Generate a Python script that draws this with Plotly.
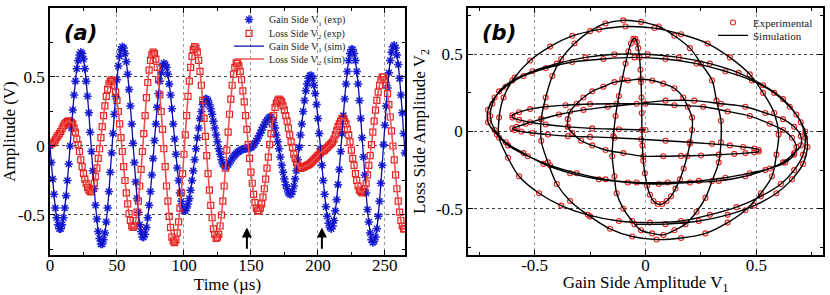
import plotly.graph_objects as go

# ---------------- data ----------------
time_us = list(range(0, 266))  # sampling instants, 1 us apart

gain_v1 = [
    0.00, -0.12, -0.24, -0.35, -0.45, -0.52, -0.57, -0.60, -0.60, -0.57,
    -0.52, -0.45, -0.36, -0.25, -0.13, 0.00, 0.13, 0.26, 0.37, 0.47,
    0.56, 0.62, 0.66, 0.68, 0.67, 0.63, 0.56, 0.47, 0.36, 0.24,
    0.10, -0.04, -0.18, -0.31, -0.43, -0.53, -0.62, -0.67, -0.71, -0.71,
    -0.68, -0.63, -0.55, -0.45, -0.33, -0.19, -0.05, 0.09, 0.23, 0.36,
    0.48, 0.58, 0.65, 0.70, 0.72, 0.71, 0.67, 0.61, 0.52, 0.41,
    0.29, 0.16, 0.02, -0.12, -0.26, -0.38, -0.48, -0.57, -0.62, -0.66,
    -0.66, -0.64, -0.59, -0.52, -0.43, -0.33, -0.21, -0.09, 0.04, 0.16,
    0.28, 0.38, 0.47, 0.53, 0.58, 0.60, 0.59, 0.57, 0.52, 0.45,
    0.37, 0.27, 0.16, 0.05, -0.06, -0.16, -0.25, -0.34, -0.40, -0.44,
    -0.47, -0.47, -0.45, -0.42, -0.38, -0.32, -0.25, -0.18, -0.10, -0.02,
    0.06, 0.13, 0.20, 0.25, 0.30, 0.32, 0.34, 0.34, 0.33, 0.30,
    0.27, 0.23, 0.18, 0.13, 0.08, 0.03, -0.02, -0.06, -0.10, -0.13,
    -0.14, -0.15, -0.145, -0.135, -0.12, -0.105, -0.09, -0.077, -0.066, -0.055,
    -0.046, -0.039, -0.033, -0.027, -0.023, -0.02, -0.018, -0.017, -0.016, -0.014,
    -0.01, -0.003, 0.007, 0.02, 0.036, 0.055, 0.075, 0.095, 0.115, 0.135,
    0.155, 0.172, 0.188, 0.20, 0.21, 0.21, 0.19, 0.17, 0.13, 0.08,
    0.03, -0.02, -0.08, -0.14, -0.19, -0.24, -0.28, -0.31, -0.34, -0.35,
    -0.35, -0.33, -0.29, -0.24, -0.18, -0.10, -0.01, 0.08, 0.16, 0.25,
    0.33, 0.40, 0.45, 0.49, 0.51, 0.51, 0.49, 0.44, 0.38, 0.30,
    0.20, 0.09, -0.02, -0.14, -0.25, -0.35, -0.44, -0.51, -0.56, -0.59,
    -0.60, -0.58, -0.54, -0.47, -0.39, -0.28, -0.17, -0.04, 0.09, 0.22,
    0.34, 0.45, 0.54, 0.62, 0.67, 0.70, 0.70, 0.67, 0.62, 0.54,
    0.45, 0.33, 0.20, 0.06, -0.08, -0.21, -0.34, -0.46, -0.55, -0.63,
    -0.68, -0.70, -0.69, -0.66, -0.60, -0.51, -0.40, -0.27, -0.14, 0.01,
    0.15, 0.29, 0.42, 0.53, 0.62, 0.68, 0.72, 0.73, 0.71, 0.66,
    0.59, 0.49, 0.37, 0.24, 0.09, -0.05,
]

loss_v2 = [
    0.01, 0.015, 0.02, 0.03, 0.045, 0.06, 0.075, 0.09, 0.105, 0.125,
    0.145, 0.16, 0.17, 0.178, 0.18, 0.18, 0.17, 0.16, 0.13, 0.10,
    0.05, 0.01, -0.04, -0.10, -0.15, -0.20, -0.24, -0.27, -0.30, -0.32,
    -0.33, -0.33, -0.31, -0.27, -0.22, -0.16, -0.09, -0.02, 0.06, 0.14,
    0.22, 0.29, 0.36, 0.41, 0.45, 0.47, 0.48, 0.47, 0.44, 0.39,
    0.33, 0.25, 0.16, 0.06, -0.04, -0.15, -0.25, -0.34, -0.42, -0.49,
    -0.54, -0.58, -0.59, -0.58, -0.54, -0.48, -0.40, -0.29, -0.17, -0.04,
    0.09, 0.22, 0.35, 0.46, 0.55, 0.62, 0.66, 0.68, 0.67, 0.63,
    0.57, 0.48, 0.37, 0.25, 0.12, -0.02, -0.15, -0.29, -0.40, -0.51,
    -0.59, -0.66, -0.69, -0.70, -0.68, -0.63, -0.55, -0.45, -0.34, -0.20,
    -0.06, 0.08, 0.22, 0.36, 0.47, 0.57, 0.65, 0.70, 0.72, 0.71,
    0.68, 0.62, 0.54, 0.44, 0.33, 0.20, 0.07, -0.07, -0.20, -0.32,
    -0.43, -0.52, -0.60, -0.64, -0.67, -0.66, -0.64, -0.58, -0.50, -0.40,
    -0.29, -0.16, -0.03, 0.10, 0.23, 0.34, 0.44, 0.52, 0.57, 0.60,
    0.60, 0.58, 0.54, 0.48, 0.40, 0.32, 0.22, 0.12, 0.01, -0.09,
    -0.19, -0.27, -0.35, -0.41, -0.45, -0.47, -0.47, -0.45, -0.42, -0.37,
    -0.31, -0.24, -0.16, -0.08, 0.01, 0.09, 0.16, 0.22, 0.28, 0.31,
    0.33, 0.34, 0.33, 0.32, 0.29, 0.26, 0.22, 0.18, 0.13, 0.08,
    0.03, -0.01, -0.06, -0.09, -0.12, -0.14, -0.16, -0.16, -0.158, -0.155,
    -0.15, -0.145, -0.14, -0.135, -0.13, -0.12, -0.11, -0.10, -0.09, -0.08,
    -0.07, -0.06, -0.05, -0.04, -0.035, -0.03, -0.02, -0.01, 0.00, 0.01,
    0.02, 0.03, 0.05, 0.08, 0.11, 0.14, 0.16, 0.18, 0.20, 0.20,
    0.18, 0.16, 0.12, 0.08, 0.03, -0.03, -0.09, -0.14, -0.20, -0.25,
    -0.29, -0.32, -0.33, -0.34, -0.33, -0.31, -0.27, -0.21, -0.14, -0.07,
    0.01, 0.10, 0.18, 0.26, 0.33, 0.39, 0.44, 0.48, 0.50, 0.50,
    0.48, 0.44, 0.38, 0.30, 0.21, 0.11, 0.00, -0.10, -0.21, -0.31,
    -0.40, -0.48, -0.54, -0.58, -0.60, -0.60,
]

assert len(time_us) == len(gain_v1) == len(loss_v2)

time_tick_vals = [0, 50, 100, 150, 200, 250]
time_tick_text = ["0", "50", "100", "150", "200", "250"]
time_minor_vals = [25, 75, 125, 175, 225]
amp_tick_vals = [-0.5, 0, 0.5]
amp_tick_text = ["-0.5", "0", "0.5"]
amp_minor_vals = [-0.75, -0.25, 0.25, 0.75]
arrow_times = [147, 203]

# ---------------- styling ----------------
SERIF = "Liberation Serif"
BLUE_M = "#1c22e0"
BLUE_L = "#0d0da8"
RED_M = "#e3211f"
RED_L = "#ec5050"

fig = go.Figure()

fig.add_trace(go.Scatter(
    x=time_us, y=gain_v1, mode="markers", name="Gain Side V<sub>1</sub> (exp)",
    marker=dict(symbol="asterisk", size=7, color=BLUE_M, line=dict(color=BLUE_M, width=1.5)),
    xaxis="x", yaxis="y", legend="legend"))
fig.add_trace(go.Scatter(
    x=time_us, y=loss_v2, mode="markers", name="Loss Side V<sub>2</sub> (exp)",
    marker=dict(symbol="square-open", size=6, color=RED_M, line=dict(color=RED_M, width=1.2)),
    xaxis="x", yaxis="y", legend="legend3"))
fig.add_trace(go.Scatter(
    x=time_us, y=gain_v1, mode="lines", name="Gain Side V<sub>1</sub> (sim)",
    line=dict(color=BLUE_L, width=1.3, shape="spline"),
    xaxis="x", yaxis="y", legend="legend4"))
fig.add_trace(go.Scatter(
    x=time_us, y=loss_v2, mode="lines", name="Loss Side V<sub>2</sub> (sim)",
    line=dict(color=RED_L, width=1.6, shape="spline"),
    xaxis="x", yaxis="y", legend="legend5"))

fig.add_trace(go.Scatter(
    x=gain_v1, y=loss_v2, mode="markers", name="Experimental",
    marker=dict(symbol="circle-open", size=5, color=RED_M, line=dict(color=RED_M, width=1.1)),
    xaxis="x2", yaxis="y2", legend="legend2"))
fig.add_trace(go.Scatter(
    x=gain_v1, y=loss_v2, mode="lines", name="Simulation",
    line=dict(color="black", width=1.4, shape="spline", smoothing=1.0),
    xaxis="x2", yaxis="y2", legend="legend6"))

TICKFONT = dict(family=SERIF, size=17, color="black")


def axis(**kw):
    base = dict(
        showline=True, linecolor="black", linewidth=1.6, mirror="ticks",
        ticks="inside", ticklen=5, tickwidth=1, tickcolor="black",
        tickfont=TICKFONT,
        zeroline=False, showgrid=True, griddash="dot", gridwidth=1,
        automargin=False, tickmode="array",
    )
    base.update(kw)
    return base


def legend_box(x, y, size):
    return dict(x=x, y=y, xanchor="left", yanchor="top", bgcolor="rgba(0,0,0,0)",
                font=dict(family=SERIF, size=size, color="#222"), tracegroupgap=0)


minor_style = dict(ticks="inside", ticklen=3, tickwidth=1, tickcolor="black", showgrid=False)
title_font = dict(family=SERIF, size=17, color="black")

fig.update_layout(
    width=830, height=295,
    margin=dict(l=50, r=7, t=5, b=40),
    paper_bgcolor="white", plot_bgcolor="white",
    xaxis=axis(domain=[0, 0.4592], range=[0, 265], anchor="y",
               tickvals=time_tick_vals, ticktext=time_tick_text, gridcolor="#9a9a9a",
               ticklabelstandoff=-6,
               minor=dict(tickvals=time_minor_vals, **minor_style),
               title=dict(text="Time (µs)", font=title_font, standoff=0)),
    yaxis=axis(domain=[0, 1], range=[-0.79, 1.0], anchor="x",
               tickvals=amp_tick_vals, ticktext=amp_tick_text, gridcolor="#444444",
               minor=dict(tickvals=amp_minor_vals, **minor_style),
               title=dict(text="Amplitude (V)", font=title_font, standoff=6)),
    xaxis2=axis(domain=[0.5408, 1.0], range=[-0.8, 0.8], anchor="y2",
                tickvals=amp_tick_vals, ticktext=amp_tick_text, gridcolor="#9a9a9a",
                ticklabelstandoff=-6,
                minor=dict(tickvals=amp_minor_vals, **minor_style),
                title=dict(text="Gain Side Amplitude V<sub>1</sub>", font=title_font, standoff=0)),
    yaxis2=axis(domain=[0, 1], range=[-0.8, 0.8], anchor="x2",
                tickvals=amp_tick_vals, ticktext=amp_tick_text, gridcolor="#444444",
                minor=dict(tickvals=amp_minor_vals, **minor_style),
                title=dict(text="Loss Side Amplitude V<sub>2</sub>", font=title_font, standoff=6)),
    showlegend=True,
)
fig.update_layout(
    legend=legend_box(0.2316, 1.012, 10),
    legend3=legend_box(0.2316, 0.956, 10),
    legend4=legend_box(0.2316, 0.904, 10),
    legend5=legend_box(0.2316, 0.852, 10),
    legend2=legend_box(0.8577, 1.0, 11),
    legend6=legend_box(0.8577, 0.948, 11),
)
fig.update_xaxes(tickfont=TICKFONT)
fig.update_yaxes(tickfont=TICKFONT)

annotations = [
    dict(text="<b><i>(a)</i></b>", xref="x domain", yref="y domain", x=0.035, y=0.9,
         xanchor="left", yanchor="middle", showarrow=False,
         font=dict(family="DejaVu Sans", size=21, color="black")),
    dict(text="<b><i>(b)</i></b>", xref="x2 domain", yref="y2 domain", x=0.033, y=0.9,
         xanchor="left", yanchor="middle", showarrow=False,
         font=dict(family="DejaVu Sans", size=21, color="black")),
]
for t in arrow_times:
    annotations.append(dict(
        x=t, y=-0.59, xref="x", yref="y", ax=t, ay=-0.755, axref="x", ayref="y",
        text="", showarrow=True, arrowhead=2, arrowsize=1, arrowwidth=2, arrowcolor="black"))
fig.update_layout(annotations=annotations)

fig.write_html(
    "out.html",
    config={"displayModeBar": False},
    post_script="document.documentElement.style.margin='0';document.body.style.margin='0';"
                "document.body.style.overflow='hidden';",
)
